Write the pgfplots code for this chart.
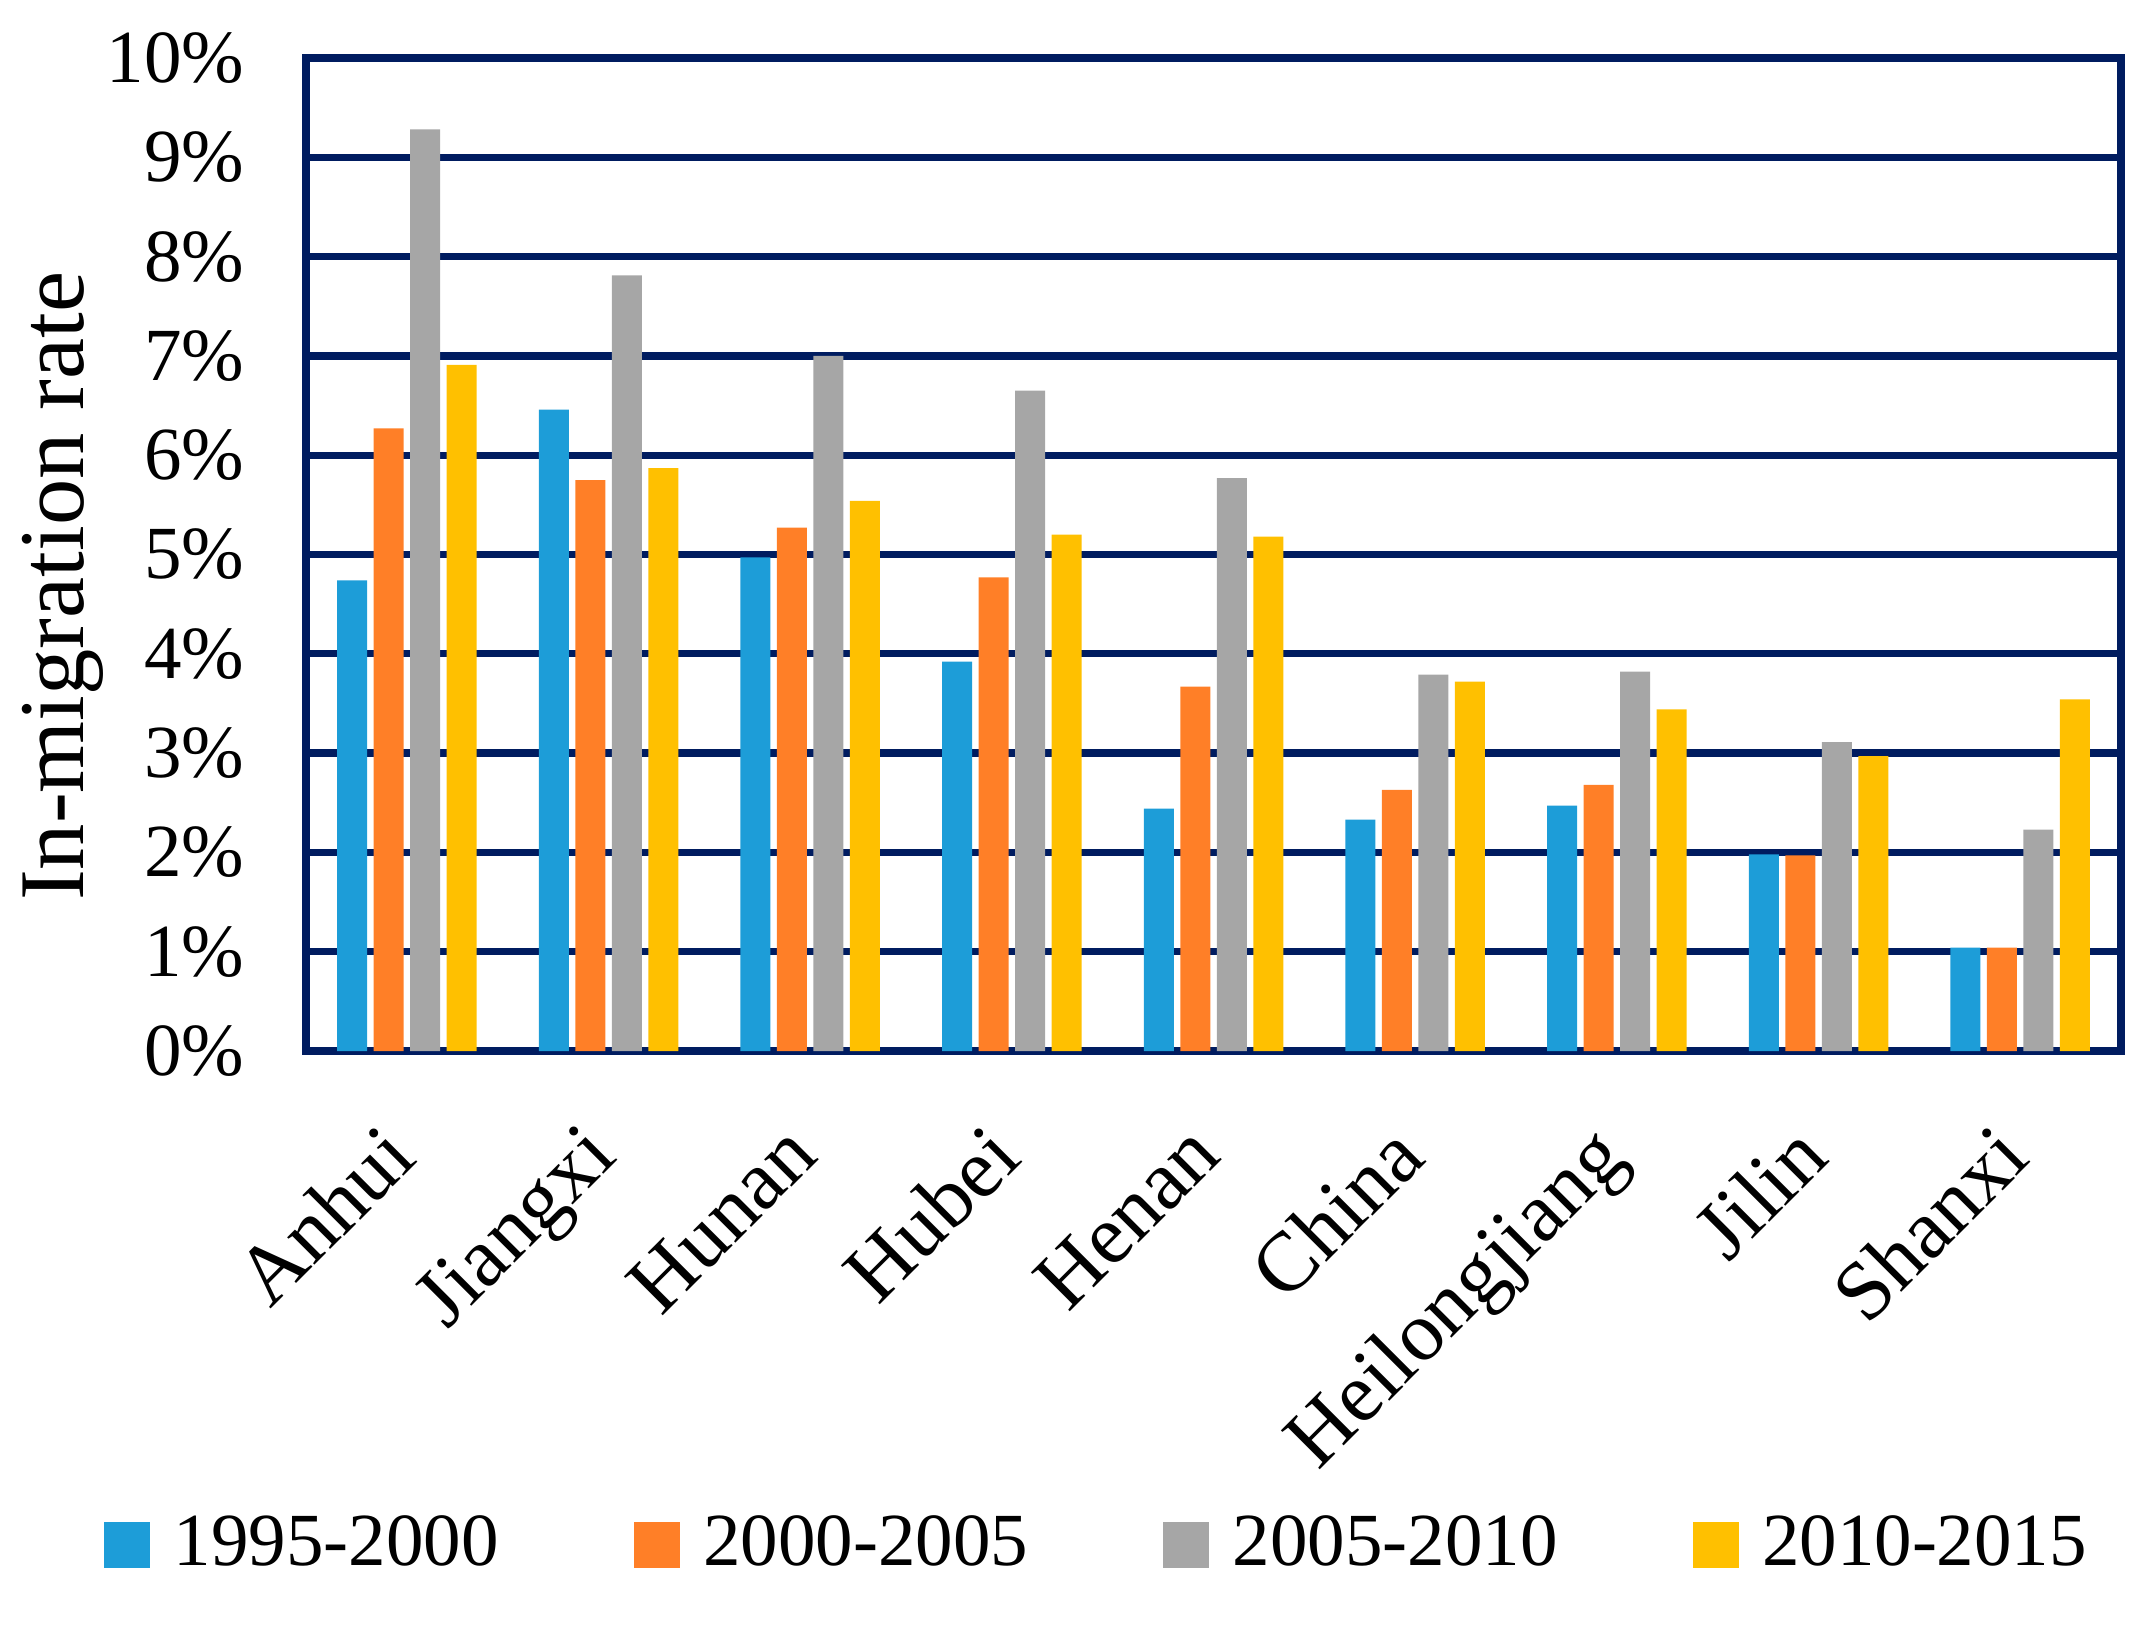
\documentclass[border=0pt]{standalone}
\usepackage{fontspec}
\setmainfont{Liberation Serif}
\usepackage{pgfplots}
\pgfplotsset{compat=1.18}

\definecolor{navy}{RGB}{0,28,96}
\definecolor{cblue}{RGB}{29,157,216}
\definecolor{corange}{RGB}{255,127,39}
\definecolor{cgray}{RGB}{166,166,166}
\definecolor{cyellow}{RGB}{255,192,0}

\begin{document}
\begin{tikzpicture}
\begin{axis}[
  name=ax,
  scale only axis,
  width=363pt, height=198.6pt,
  ybar=1.3pt, bar width=6pt,
  xmin=-0.5, xmax=8.5,
  ymin=0, ymax=10,
  xtick={0,...,8},
  xticklabels={Anhui,Jiangxi,Hunan,Hubei,Henan,China,Heilongjiang,Jilin,Shanxi},
  ytick={0,...,10},
  yticklabels={0\%,1\%,2\%,3\%,4\%,5\%,6\%,7\%,8\%,9\%,10\%},
  major tick length=0pt,
  ymajorgrids,
  grid style={navy, line width=1.45pt},
  axis line style={navy, line width=1.7pt},
  yticklabel style={font=\fontsize{15}{18}\selectfont, xshift=-8.8pt},
  xticklabel style={font=\fontsize{16.8}{20}\selectfont, inner sep=0pt,
    xshift=-5.8pt, yshift=-13.5pt, rotate=45, anchor=north east},
  ylabel={In-migration rate},
  ylabel style={font=\fontsize{18.5}{22}\selectfont,
    at={(axis description cs:-0.134,0.468)}, anchor=center},
  legend columns=4,
  legend image code/.code={\fill[#1] (0pt,-4.6pt) rectangle (9.2pt,4.6pt);},
  legend style={at={(0.435,-0.497)}, anchor=center, draw=none, fill=none,
    font=\fontsize{15}{18}\selectfont, nodes={inner sep=0pt},
    /tikz/every odd column/.append style={column sep=4.7pt},
    /tikz/every even column/.append style={column sep=27pt}},
]
\addplot[fill=cblue, draw=none] coordinates {
  (0,4.74) (1,6.46) (2,4.97) (3,3.92) (4,2.44) (5,2.33) (6,2.47) (7,1.98) (8,1.04)};
\addplot[fill=corange, draw=none] coordinates {
  (0,6.27) (1,5.75) (2,5.27) (3,4.77) (4,3.67) (5,2.63) (6,2.68) (7,1.97) (8,1.04)};
\addplot[fill=cgray, draw=none] coordinates {
  (0,9.28) (1,7.81) (2,7.00) (3,6.65) (4,5.77) (5,3.79) (6,3.82) (7,3.11) (8,2.23)};
\addplot[fill=cyellow, draw=none] coordinates {
  (0,6.91) (1,5.87) (2,5.54) (3,5.20) (4,5.18) (5,3.72) (6,3.44) (7,2.97) (8,3.54)};
\legend{1995-2000,2000-2005,2005-2010,2010-2015}
\end{axis}
\pgfresetboundingbox
\path[use as bounding box] ([shift={(-61.2pt,-115.2pt)}]ax.south west)
  rectangle ([shift={(6pt,11.6pt)}]ax.north east);
\end{tikzpicture}
\end{document}
